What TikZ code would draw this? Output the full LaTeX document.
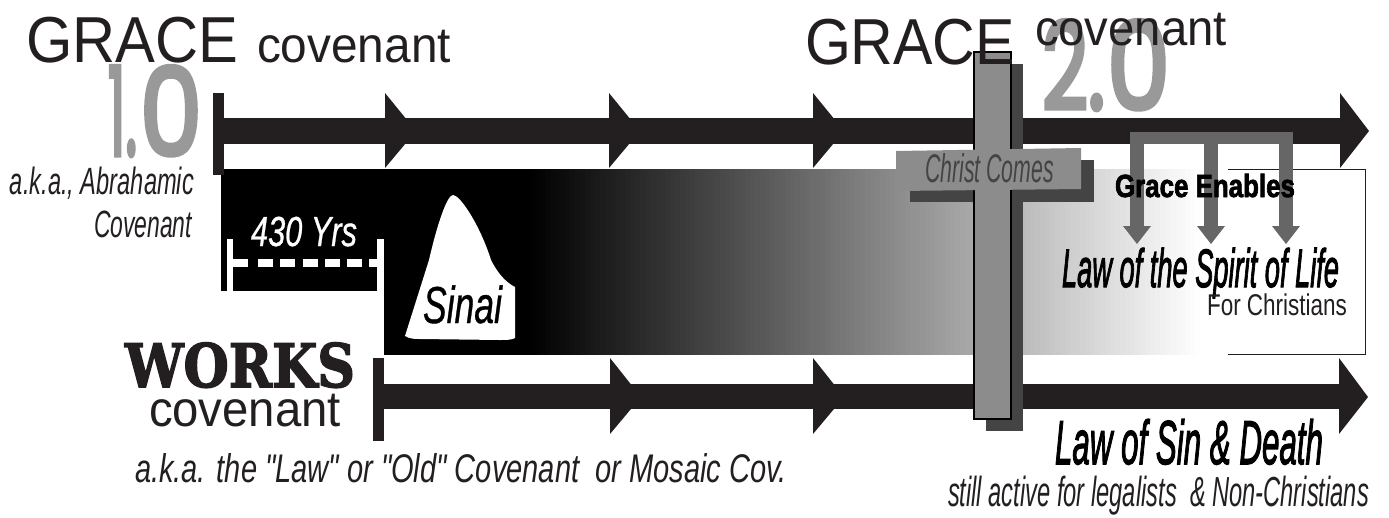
\documentclass[tikz,border=0pt]{standalone}
\usepackage{graphicx}
\usepackage{fontspec}
\setmainfont{Liberation Sans}
\newfontfamily\plainsans{Liberation Sans}
\newfontfamily\midsans[FakeBold=0.8]{Liberation Sans}
\newfontfamily\heavysans[FakeBold=2.4]{Liberation Sans}
\newfontfamily\numfont[FakeBold=4]{Poppins}
\newfontfamily\worksfont[FakeBold=2.5]{DejaVu Serif}
\definecolor{ink}{HTML}{231F20}
\definecolor{numgrey}{HTML}{999999}
\definecolor{crossfront}{HTML}{8C8C8C}
\definecolor{crossshade}{HTML}{444444}
\definecolor{enable}{HTML}{666666}
% \fittext{width}{size}{font}{text}: text at a size, squeezed to the width
\newcommand{\fittext}[4]{\resizebox{#1pt}{\height}{\fontsize{#2}{#2}\selectfont #3{}#4}}
\tikzset{
  lbl/.style={anchor=base west,inner sep=0pt,outer sep=0pt,text=ink},
  timeline/.style={fill=ink,draw=none},
  crossfill/.style={fill=crossfront,draw=none},
  crossshadow/.style={fill=crossshade,draw=none},
  enablefill/.style={fill=enable,draw=none},
  numlabel/.style={anchor=south west,inner sep=0pt,outer sep=0pt,text=numgrey}
}
\begin{document}
\begin{tikzpicture}[x=1pt,y=-1pt]
\useasboundingbox (0,0) rectangle (1389,517);
\fill[white] (0,0) rectangle (1389,517);
% number labels
\node[numlabel] (numone) at (108,156) {\resizebox{29pt}{89pt}{\numfont 1.}\hspace{3pt}\resizebox{62pt}{89pt}{\numfont 0}};
\node[numlabel] (numtwo) at (1042,110) {\resizebox{63pt}{89pt}{\numfont 2.}\hspace{2pt}\resizebox{63pt}{89pt}{\numfont 0}};
% gradient band
\fill[black] (221,169) rectangle (531,291);
\fill[black] (384,291) rectangle (531,355);
\foreach \i in {0,...,133}{
  \pgfmathsetmacro{\pct}{(\i+0.5)*100/134}
  \fill[white!\pct!black] (530+\i*5,169) rectangle (1200,355);
}
% outline box
\draw[ink,line width=1pt] (1228,169.5) -- (1365,169.5) -- (1365,354) -- (1228,354);
% top timeline
\fill[timeline] (213,93) rectangle (224,175);
\fill[timeline] (224,118) rectangle (1345,144);
\foreach \xx in {385,609,813}{
  \fill[timeline] (\xx,93) -- (\xx+31,131) -- (\xx,168) -- cycle;
}
\fill[timeline] (1340,93) -- (1369,131) -- (1340,168) -- cycle;
% bottom timeline
\fill[timeline] (373,358) rectangle (384,441);
\fill[timeline] (384,384) rectangle (1345,409);
\foreach \xx in {610,813}{
  \fill[timeline] (\xx,358) -- (\xx+31,397) -- (\xx,434) -- cycle;
}
\fill[timeline] (1339,358) -- (1368,397) -- (1339,434) -- cycle;
% 430 years bracket
\fill[white] (227,239) rectangle (233,291);
\fill[white] (377,239) rectangle (384,291);
\foreach \xx in {233,258,280,303,325,347,369}{
  \fill[white] (\xx,259) rectangle (\xx+15,267);
}
% Sinai
\fill[white] (453,195) .. controls (447,195) and (437,225) .. (429,260)
  -- (405,336) .. controls (410,339) and (415,339) .. (420,339)
  -- (500,340) .. controls (505,340) and (512,340) .. (515,338)
  -- (515,287) .. controls (505,282) and (497,272) .. (491,260)
  .. controls (480,225) and (460,195) .. (453,195) -- cycle;
% cross
\fill[crossshadow] (986,64) rectangle (1023,431);
\fill[crossshadow] (910,160) rectangle (1094,202);
\fill[crossfill] (974,52) rectangle (1011,419);
\draw[black,line width=1.5pt] (974,52) rectangle (1011,419);
\fill[crossfill] (896,151) -- (1081,148) -- (1081,189) -- (896,191) -- cycle;
% grace enables arrows
\fill[enablefill] (1130,132) rectangle (1293,144);
\foreach \xx in {1130,1204,1279}{
  \fill[enablefill] (\xx,144) rectangle (\xx+14,226);
  \fill[enablefill] (\xx-7,226) -- (\xx+21,226) -- (\xx+7,244) -- cycle;
}
% texts
\node[lbl] (graceone) at (26,62) {\fittext{212}{65}{}{GRACE}};
\node[lbl] (covone) at (257,62) {\fittext{194}{50}{}{covenant}};
\node[lbl] (gracetwo) at (805,64) {\fittext{210}{65}{}{GRACE}};
\node[lbl] (covtwo) at (1035,45) {\fittext{192}{50}{}{covenant}};
\node[lbl] (akaone) at (10,194) {\fittext{184}{38}{\itshape}{a.k.a., Abrahamic}};
\node[lbl] (akatwo) at (94,237) {\fittext{98}{38}{\itshape}{Covenant}};
\node[lbl,text=white] (yrs) at (251,246) {\fittext{106}{42}{\midsans\itshape}{430 Yrs}};
\node[lbl,text=black] (sinai) at (423,323) {\fittext{79}{52}{\midsans\itshape}{Sinai}};
\node[lbl] (works) at (125,387) {\fittext{230}{60}{\worksfont\bfseries}{WORKS}};
\node[lbl] (covworks) at (149,426) {\fittext{192}{50}{}{covenant}};
\node[lbl] (akaworks) at (135,482) {\fittext{652}{40}{\plainsans\itshape}{a.k.a. the "Law" or "Old" Covenant\ \ or Mosaic Cov.}};
\node[lbl,text=black] (sin) at (1055,464) {\fittext{268}{62}{\heavysans\itshape}{Law of Sin \& Death}};
\node[lbl] (still) at (948,506) {\fittext{421}{42}{\itshape}{still active for legalists\ \ \& Non-Christians}};
\node[lbl,text=crossshade] (christ) at (925,182) {\fittext{129}{40}{\itshape}{Christ Comes}};
\node[lbl,text=black] (enables) at (1115,197) {\fittext{180}{32}{\heavysans\bfseries}{Grace Enables}};
\node[lbl,text=black] (spirit) at (1062,287) {\fittext{277}{54}{\heavysans\itshape}{Law of the Spirit of Life}};
\node[lbl] (forchr) at (1207,315) {\fittext{140}{30}{}{For Christians}};
\end{tikzpicture}
\end{document}
